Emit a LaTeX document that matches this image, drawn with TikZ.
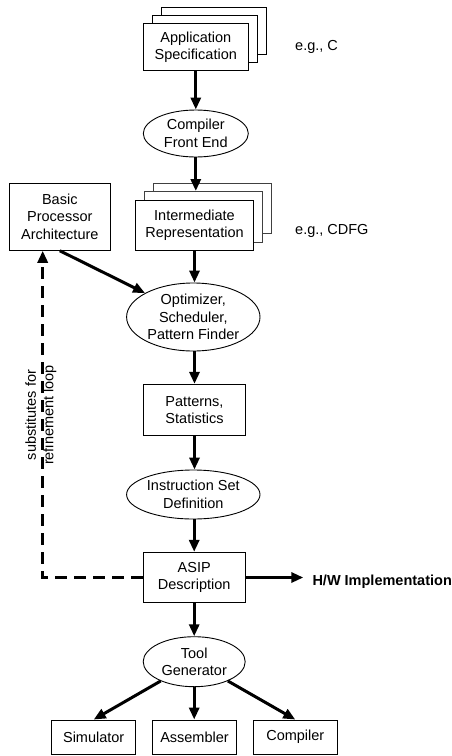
\documentclass[tikz,border=0pt]{standalone}
\usepackage{fontspec}
\setmainfont{Liberation Sans}
\usetikzlibrary{arrows.meta,shapes.geometric}
\begin{document}
\begin{tikzpicture}[x=1pt,y=-1pt,
  font=\fontsize{14.5}{17.5}\selectfont,
  box/.style={draw, line width=0.9pt, fill=white, inner sep=0pt, align=center},
  backbox/.style={box, draw=black!75},
  oval/.style={draw, ellipse, line width=0.9pt, fill=white, inner sep=0pt, align=center},
  flow/.style={line width=3pt, -{Triangle[length=12pt,width=10pt]}},
  loopline/.style={line width=3pt, dash pattern=on 12pt off 7pt, -{Triangle[length=12pt,width=10pt]}},
  lbl/.style={inner sep=0pt, anchor=base west}]
\useasboundingbox (0,0) rectangle (452,756);

% Application Specification (stacked)
\node[box, minimum width=105pt, minimum height=47pt] (app2) at (213.8,30.6) {};
\node[box, minimum width=105pt, minimum height=47pt] (app1) at (204.8,39) {};
\node[box, minimum width=105pt, minimum height=47pt] (app) at (195.8,47.3) {Application\\Specification};
\node[lbl] (egc) at (295,50) {e.g., C};

% Compiler Front End
\node[oval, minimum width=105pt, minimum height=47pt] (cfe) at (195.8,133.5) {Compiler\\Front End};

% Intermediate Representation (stacked)
\node[backbox, minimum width=117.6pt, minimum height=50.3pt] (ir2) at (212.5,208.5) {};
\node[backbox, minimum width=117.6pt, minimum height=50.3pt] (ir1) at (203.5,216.9) {};
\node[box, minimum width=117.6pt, minimum height=50.3pt] (ir) at (194.5,225.2) {Intermediate\\Representation};
\node[lbl] (egcdfg) at (295,234) {e.g., CDFG};
\coordinate (irtop) at (195,191);

% Basic Processor Architecture
\node[box, minimum width=101pt, minimum height=67pt] (bpa) at (59.8,216.8) {Basic\\Processor\\Architecture};

% Optimizer
\node[oval, minimum width=133.4pt, minimum height=68pt] (opt) at (193.3,317) {Optimizer,\\Scheduler,\\Pattern Finder};

% Patterns, Statistics
\node[box, minimum width=102.4pt, minimum height=51.4pt] (pat) at (194.5,410) {Patterns,\\Statistics};

% Instruction Set Definition
\node[oval, minimum width=133.4pt, minimum height=49pt] (isd) at (193.3,494.5) {Instruction Set\\Definition};

% ASIP Description
\node[box, minimum width=101.7pt, minimum height=50.4pt] (asip) at (194.2,577.5) {ASIP\\Description};
\coordinate (hwtip) at (303.3,577.5);
\node[lbl, font=\fontsize{14.5}{17.5}\selectfont\bfseries] (hw) at (312.3,585.5) {H/W Implementation};

% Tool Generator
\node[oval, minimum width=102pt, minimum height=50pt] (tg) at (194.2,661.7) {Tool\\Generator};

% Bottom tools
\node[box, minimum width=84pt, minimum height=34pt] (sim) at (93.7,737) {Simulator};
\node[box, minimum width=84pt, minimum height=34pt] (asm) at (194.5,737) {Assembler};
\node[box, minimum width=84pt, minimum height=34pt] (comp) at (295.3,737) {Compiler};

% Flow arrows
\draw[flow] (app.south -| cfe.north) -- (cfe.north);
\draw[flow] (cfe.south) -- (cfe.south |- irtop);
\draw[flow] (ir.south) -- (ir.south |- opt.north);
\draw[flow] (bpa.south) -- (opt);
\draw[flow] (opt.south -| pat.north) -- (pat.north);
\draw[flow] (pat.south) -- (pat.south |- isd.north);
\draw[flow] (isd.south -| asip.north) -- (asip.north);
\draw[flow] (asip.south) -- (tg.north);
\draw[flow] (asip.east) -- (hwtip);
\draw[flow] (tg) -- (sim.north);
\draw[flow] (tg.south) -- (asm.north -| tg.south);
\draw[flow] (tg) -- (comp.north);

% Refinement loop (dashed)
\coordinate (corner) at (42.7,577.5);
\draw[loopline] (asip.west) -- (corner) -- (corner |- bpa.south);
\node[rotate=90, align=center, inner sep=0pt] (looplbl) at (41,415) {substitutes for\\refinement loop};
\end{tikzpicture}
\end{document}
